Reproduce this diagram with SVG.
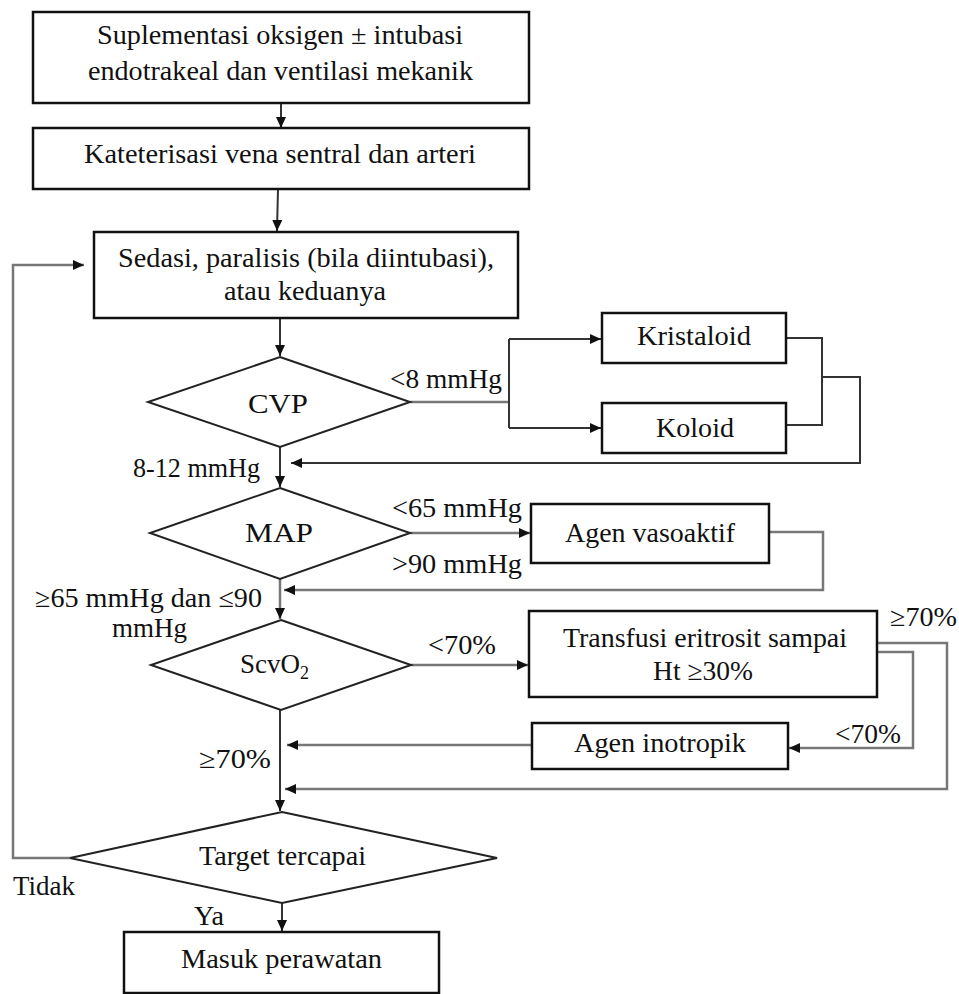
<svg xmlns="http://www.w3.org/2000/svg" width="959" height="994" viewBox="0 0 959 994">
<style>
.box{fill:#fff;stroke:#111;stroke-width:2.5}
.dia{fill:#fff;stroke:#222;stroke-width:2}
.t{font-family:"Liberation Serif","Times New Roman",serif;font-size:27px;fill:#111}
.c{fill:none;stroke:#333;stroke-width:2}
.g{fill:none;stroke:#777;stroke-width:2.5}
</style>
<defs>
<marker id="ah" markerUnits="userSpaceOnUse" markerWidth="11" markerHeight="10" refX="11" refY="5" orient="auto">
<path d="M0,0 L11,5 L0,10 z" fill="#111"/>
</marker>
</defs>
<rect width="959" height="994" fill="#fff"/>
<g id="connectors">
<path class="c" d="M281,103 V128" marker-end="url(#ah)"/>
<path class="c" d="M278,189 L277,231" marker-end="url(#ah)"/>
<path class="g" d="M70,858 H13 V265 H84" marker-end="url(#ah)"/>
<path class="c" d="M280,318 V356" marker-end="url(#ah)"/>
<path class="g" d="M410,402 H509"/>
<path class="c" d="M509,339 V428"/>
<path class="c" d="M509,339 H601" marker-end="url(#ah)"/>
<path class="c" d="M509,428 H601" marker-end="url(#ah)"/>
<path class="c" d="M786,338 H822 V425 H786"/>
<path class="c" d="M822,377 H860 V463 H291" marker-end="url(#ah)"/>
<path class="c" d="M280,447 V487" marker-end="url(#ah)"/>
<path class="g" d="M410,533 H530" marker-end="url(#ah)"/>
<path class="g" d="M769,532 H823 V590 H284" marker-end="url(#ah)"/>
<path class="g" d="M280,579 V619" marker-end="url(#ah)"/>
<path class="g" d="M411,665 H528" marker-end="url(#ah)"/>
<path class="g" d="M877,643 H947 V789 H285" marker-end="url(#ah)"/>
<path class="g" d="M877,652 H913 V748 H789" marker-end="url(#ah)"/>
<path class="g" d="M532,745 H287" marker-end="url(#ah)"/>
<path class="c" d="M280,710 V811" marker-end="url(#ah)"/>
<path class="c" d="M282,903 V931" marker-end="url(#ah)"/>
</g>
<g id="n1">
<rect class="box" x="33" y="12" width="496" height="91"/>
<text class="t" x="97" y="44" textLength="366" lengthAdjust="spacingAndGlyphs">Suplementasi oksigen ± intubasi</text>
<text class="t" x="88" y="80" textLength="385" lengthAdjust="spacingAndGlyphs">endotrakeal dan ventilasi mekanik</text>
</g>
<g id="n2">
<rect class="box" x="33" y="128" width="496" height="61"/>
<text class="t" x="84" y="163" textLength="392" lengthAdjust="spacingAndGlyphs">Kateterisasi vena sentral dan arteri</text>
</g>
<g id="n3">
<rect class="box" x="94" y="232" width="424" height="86"/>
<text class="t" x="118" y="267" textLength="376" lengthAdjust="spacingAndGlyphs">Sedasi, paralisis (bila diintubasi),</text>
<text class="t" x="224" y="300" textLength="162" lengthAdjust="spacingAndGlyphs">atau keduanya</text>
</g>
<g id="cvp">
<polygon class="dia" points="280,357 410,402 280,447 148,402"/>
<text class="t" x="248" y="413" textLength="60" lengthAdjust="spacingAndGlyphs">CVP</text>
</g>
<g id="kristaloid">
<rect class="box" x="602" y="313" width="184" height="50"/>
<text class="t" x="637" y="345" textLength="114" lengthAdjust="spacingAndGlyphs">Kristaloid</text>
</g>
<g id="koloid">
<rect class="box" x="602" y="403" width="184" height="50"/>
<text class="t" x="656" y="437" textLength="78" lengthAdjust="spacingAndGlyphs">Koloid</text>
</g>
<g id="map">
<polygon class="dia" points="280,488 410,533 280,579 150,533"/>
<text class="t" x="245" y="542" textLength="68" lengthAdjust="spacingAndGlyphs">MAP</text>
</g>
<g id="vasoaktif">
<rect class="box" x="531" y="504" width="238" height="59"/>
<text class="t" x="565" y="542" textLength="170" lengthAdjust="spacingAndGlyphs">Agen vasoaktif</text>
</g>
<g id="scvo2">
<polygon class="dia" points="281,620 411,665 281,710 151,665"/>
<text class="t" x="240" y="673">ScvO<tspan font-size="18" dy="6">2</tspan></text>
</g>
<g id="transfusi">
<rect class="box" x="529" y="611" width="348" height="86"/>
<text class="t" x="563" y="647" textLength="284" lengthAdjust="spacingAndGlyphs">Transfusi eritrosit sampai</text>
<text class="t" x="653" y="680" textLength="100" lengthAdjust="spacingAndGlyphs">Ht ≥30%</text>
</g>
<g id="inotropik">
<rect class="box" x="532" y="723" width="256" height="46"/>
<text class="t" x="574" y="752" textLength="172" lengthAdjust="spacingAndGlyphs">Agen inotropik</text>
</g>
<g id="target">
<polygon class="dia" points="282,812 497,858 282,903 70,858"/>
<text class="t" x="199" y="865" textLength="167" lengthAdjust="spacingAndGlyphs">Target tercapai</text>
</g>
<g id="masuk">
<rect class="box" x="124" y="932" width="315" height="61"/>
<text class="t" x="181" y="968" textLength="201" lengthAdjust="spacingAndGlyphs">Masuk perawatan</text>
</g>
<g id="labels">
<text class="t" x="390" y="388" textLength="112" lengthAdjust="spacingAndGlyphs">&lt;8 mmHg</text>
<text class="t" x="133" y="477" textLength="127" lengthAdjust="spacingAndGlyphs">8-12 mmHg</text>
<text class="t" x="392" y="517" textLength="130" lengthAdjust="spacingAndGlyphs">&lt;65 mmHg</text>
<text class="t" x="392" y="573" textLength="130" lengthAdjust="spacingAndGlyphs">&gt;90 mmHg</text>
<text class="t" x="35" y="607" textLength="227" lengthAdjust="spacingAndGlyphs">≥65 mmHg dan ≤90</text>
<text class="t" x="112" y="637" textLength="75" lengthAdjust="spacingAndGlyphs">mmHg</text>
<text class="t" x="428" y="654" textLength="68" lengthAdjust="spacingAndGlyphs">&lt;70%</text>
<text class="t" x="890" y="626" textLength="67" lengthAdjust="spacingAndGlyphs">≥70%</text>
<text class="t" x="835" y="743" textLength="66" lengthAdjust="spacingAndGlyphs">&lt;70%</text>
<text class="t" x="199" y="768" textLength="72" lengthAdjust="spacingAndGlyphs">≥70%</text>
<text class="t" x="13" y="895" textLength="62" lengthAdjust="spacingAndGlyphs">Tidak</text>
<text class="t" x="194" y="925" textLength="30" lengthAdjust="spacingAndGlyphs">Ya</text>
</g>
</svg>
